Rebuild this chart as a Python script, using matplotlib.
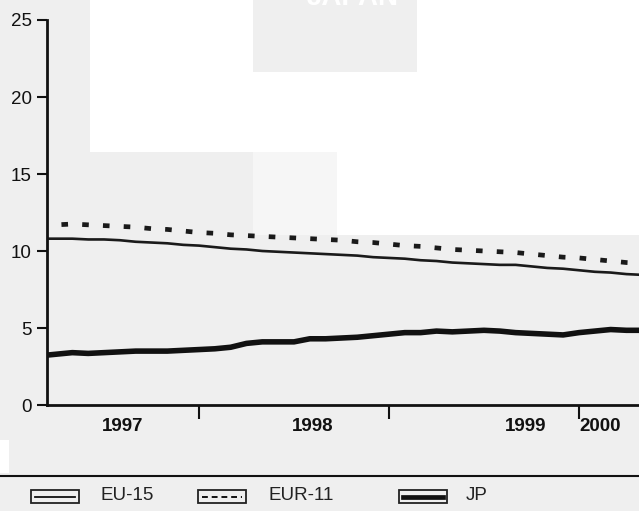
import numpy as np
import pandas as pd
import matplotlib
matplotlib.use("Agg")
import matplotlib.pyplot as plt
from matplotlib.patches import Rectangle
from matplotlib.lines import Line2D

plt.rcParams['font.family'] = ['Liberation Sans', 'DejaVu Sans']

# Monthly unemployment rates (%), March 1997 - May 2000
months = pd.date_range('1997-03-01', periods=39, freq='MS')
eu15 = [10.8, 10.8, 10.8, 10.75, 10.75, 10.7, 10.6, 10.55, 10.5, 10.4,
        10.35, 10.25, 10.15, 10.1, 10.0, 9.95, 9.9, 9.85, 9.8, 9.75,
        9.7, 9.6, 9.55, 9.5, 9.4, 9.35, 9.25, 9.2, 9.15, 9.1,
        9.1, 9.0, 8.9, 8.85, 8.75, 8.65, 8.6, 8.5, 8.45]
eur11 = [11.7, 11.7, 11.75, 11.7, 11.65, 11.6, 11.55, 11.45, 11.4, 11.3,
         11.2, 11.15, 11.05, 11.0, 10.95, 10.9, 10.85, 10.8, 10.75, 10.7,
         10.6, 10.55, 10.45, 10.35, 10.3, 10.2, 10.1, 10.05, 10.0, 9.95,
         9.9, 9.8, 9.7, 9.6, 9.55, 9.45, 9.35, 9.25, 9.2]
jp = [3.2, 3.3, 3.4, 3.35, 3.4, 3.45, 3.5, 3.5, 3.5, 3.55,
      3.6, 3.65, 3.75, 4.0, 4.1, 4.1, 4.1, 4.3, 4.3, 4.35,
      4.4, 4.5, 4.6, 4.7, 4.7, 4.8, 4.75, 4.8, 4.85, 4.8,
      4.7, 4.65, 4.6, 4.55, 4.7, 4.8, 4.9, 4.85, 4.85]
year_labels = ['1997', '1998', '1999', '2000']
year_label_pos = [1997.6, 1998.6, 1999.72, 2000.11]
year_ticks = [1998, 1999, 2000]
series_names = ['EU-15', 'EUR-11', 'JP']

x = months.year + (months.month - 1) / 12.0

W, H = 639, 511
fig = plt.figure(figsize=(W / 100, H / 100), dpi=100)
fig.patch.set_facecolor('#efefef')


def fx(px):
    return px / W


def fy(py):
    return 1 - py / H


def rect(x0, y0, x1, y1, color, z=-5):
    fig.patches.append(Rectangle((fx(x0), fy(y1)), fx(x1) - fx(x0), fy(y0) - fy(y1),
                                 transform=fig.transFigure, facecolor=color,
                                 edgecolor='none', zorder=z))


# scanned-page background patches
rect(90, 0, 253, 152, 'white')
rect(417, 0, 639, 152, 'white')
rect(253, 72, 417, 152, 'white')
rect(253, 152, 337, 235, '#f6f6f6')
rect(337, 152, 639, 235, 'white')
rect(0, 440, 9, 473, 'white')

# title, mostly cut off at the top of the scan
fig.text(fx(353), fy(5), 'JAPAN', color='white', fontsize=20, fontweight='bold',
         ha='center', va='baseline')

ax = fig.add_axes([fx(47), fy(405), 1 - fx(47), fy(20) - fy(405)])
ax.set_facecolor('none')

ax.plot(x, eu15, color='#1a1a1a', lw=1.9, solid_capstyle='butt')
ax.plot(x, eur11, color='#1a1a1a', lw=3.4, linestyle=(0, (1.4, 3.0)), dash_capstyle='butt')
ax.plot(x, jp, color='#111111', lw=4.0, solid_capstyle='butt')

ax.set_xlim(1997.2, 2000.316)
ax.set_ylim(0, 25)
for s in ['top', 'right']:
    ax.spines[s].set_visible(False)
for s in ['left', 'bottom']:
    ax.spines[s].set_linewidth(2)
    ax.spines[s].set_color('#111111')

ax.set_yticks([0, 5, 10, 15, 20, 25])
ax.tick_params(axis='y', length=7, width=1.5, pad=4, labelsize=13.5, color='#111111',
               labelcolor='#111111')
ax.set_xticks(year_ticks)
ax.set_xticklabels([])
ax.tick_params(axis='x', which='major', length=10, width=1.5, color='#111111')
ax.set_xticks(year_label_pos, minor=True)
ax.set_xticklabels(year_labels, minor=True, fontsize=13.5, fontweight='bold', color='#111111')
ax.tick_params(axis='x', which='minor', length=0, pad=9)

# separator line above legend
fig.add_artist(Line2D([0, 1], [fy(476), fy(476)], transform=fig.transFigure,
                      color='#111111', lw=1.5))

# legend with boxed line samples
box_x = [31, 198, 399]
text_x = [100, 269, 466]
styles = [dict(lw=1.3), dict(lw=1.4, linestyle=(0, (3, 2))), dict(lw=3.4)]
for bx, tx, name, st in zip(box_x, text_x, series_names, styles):
    fig.patches.append(Rectangle((fx(bx), fy(503)), fx(48), fy(490) - fy(503),
                                 transform=fig.transFigure, facecolor='none',
                                 edgecolor='#222222', lw=1.3, zorder=3))
    fig.add_artist(Line2D([fx(bx + 4), fx(bx + 44)], [fy(496.5), fy(496.5)],
                          transform=fig.transFigure, color='#111111', **st))
    fig.text(fx(tx), fy(495), name, fontsize=13.5, va='center', ha='left', color='#222222')

fig.savefig('out.png', dpi=100, facecolor=fig.get_facecolor())
